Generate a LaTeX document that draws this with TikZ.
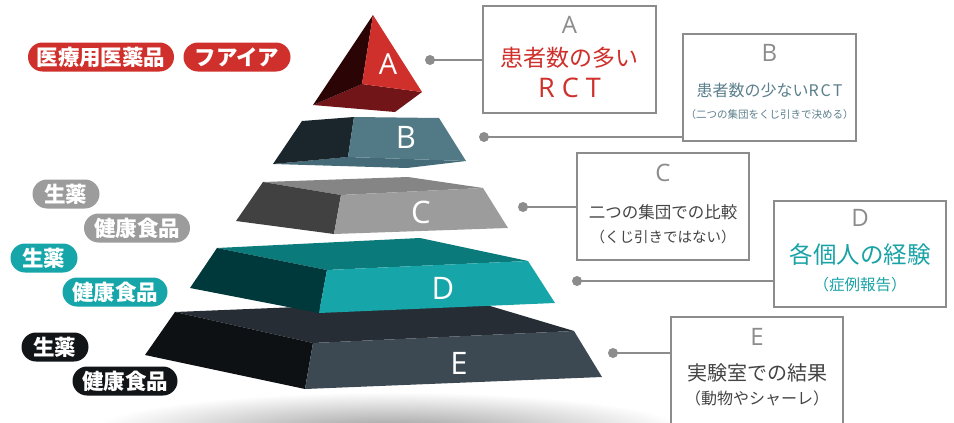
\documentclass[tikz,border=0pt]{standalone}
\usepackage{fontspec}
\newfontfamily\jp{Noto Sans CJK JP}
\newfontfamily\lat{Open Sans}
\definecolor{cred}{HTML}{D0302B}
\definecolor{credL}{HTML}{2B0505}
\definecolor{credB}{HTML}{711519}
\definecolor{cbR}{HTML}{527A86}
\definecolor{cbL}{HTML}{1A262B}
\definecolor{cbB}{HTML}{456B78}
\definecolor{ccT}{HTML}{858585}
\definecolor{ccL}{HTML}{414141}
\definecolor{ccR}{HTML}{9C9C9C}
\definecolor{cdT}{HTML}{0A7A7B}
\definecolor{cdL}{HTML}{00393C}
\definecolor{cdR}{HTML}{16A6A9}
\definecolor{ceT}{HTML}{272D35}
\definecolor{ceL}{HTML}{0E1114}
\definecolor{ceR}{HTML}{3C4852}
\definecolor{cline}{HTML}{8C8C8C}
\definecolor{cbtext}{HTML}{5B7F8C}
\definecolor{ctext}{HTML}{444444}
\definecolor{cdtext}{HTML}{1AA3A6}
\definecolor{cblack}{HTML}{111518}
\begin{document}
\begin{tikzpicture}[x=1pt,y=-1pt,
  pill/.style={rounded corners=14.5pt, minimum height=29pt, inner xsep=0pt, inner ysep=0pt,
    text=white, font=\jp\bfseries\fontsize{21.5}{21.5}\selectfont},
  infobox/.style={draw=cline, line width=1.4pt, fill=white, inner sep=0pt},
  dotn/.style={circle, fill=cline, minimum size=10pt, inner sep=0pt},
  conn/.style={draw=cline, line width=2pt},
  boxletter/.style={text=cline, font=\lat\fontsize{24}{24}\selectfont},
  pyrletter/.style={text=white, font=\lat\fontsize{31}{31}\selectfont},
]
\useasboundingbox (0,0) rectangle (954,423);
% shadow
\begin{scope}
\clip (0,0) rectangle (954,423);
\shade[inner color=black!40, outer color=white] (390,432) ellipse [x radius=300, y radius=40];
\end{scope}

% layer E
\fill[ceT] (175,312) -- (470,300) -- (574,331) -- (313,343) -- cycle;
\fill[ceL] (175,312) -- (313,343) -- (305,389) -- (145,355) -- cycle;
\fill[ceR] (313,343) -- (574,331) -- (602,377) -- (305,389) -- cycle;
% layer D
\fill[cdT] (217,248) -- (420,238) -- (528,261) -- (327,270) -- cycle;
\fill[cdL] (217,248) -- (327,270) -- (319,313) -- (190,288) -- cycle;
\fill[cdR] (327,270) -- (528,261) -- (555,303) -- (319,313) -- cycle;
% layer C
\fill[ccT] (263,182) -- (408,177) -- (483,188) -- (341,195) -- cycle;
\fill[ccL] (263,182) -- (341,195) -- (334,234) -- (236,221) -- cycle;
\fill[ccR] (341,195) -- (483,188) -- (508,228) -- (334,234) -- cycle;
% layer B
\fill[cbB] (273,164) -- (348,157) -- (466,161) -- (407,168) -- cycle;
\fill[cbL] (302,121) -- (354,117) -- (348,157) -- (273,164) -- cycle;
\fill[cbR] (354,117) -- (439,118) -- (466,161) -- (348,157) -- cycle;
% layer A
\fill[credB] (313,105) -- (362,84) -- (422,92) -- (395,112) -- cycle;
\fill[credL] (313,105) -- (373,15) -- (362,84) -- cycle;
\fill[cred] (373,15) -- (422,92) -- (362,84) -- cycle;

\node[pyrletter, font=\lat\fontsize{29}{29}\selectfont] (LA) at (388,64) {A};
\node[pyrletter] (LB) at (406,137) {B};
\node[pyrletter] (LC) at (421,212) {C};
\node[pyrletter] (LD) at (443,288) {D};
\node[pyrletter] (LE) at (459,363) {E};

% pills
\node[pill, fill=cred, minimum width=146pt] (p1) at (101,57) {医療用医薬品};
\node[pill, fill=cred, minimum width=107pt] (p2) at (237,57) {フアイア};
\node[pill, fill=ccR, minimum width=67pt] (p3) at (66,194) {生薬};
\node[pill, fill=ccR, minimum width=106pt] (p4) at (137,228) {健康食品};
\node[pill, fill=cdR, minimum width=67pt] (p5) at (44,258) {生薬};
\node[pill, fill=cdR, minimum width=105pt] (p6) at (115,292) {健康食品};
\node[pill, fill=cblack, minimum width=67pt] (p7) at (55,347) {生薬};
\node[pill, fill=cblack, minimum width=105pt] (p8) at (125,381) {健康食品};

% boxes
\node[infobox, minimum width=173pt, minimum height=107pt] (bA) at (569.5,59.5) {};
\node[infobox, minimum width=173pt, minimum height=107pt] (bB) at (769.5,87.5) {};
\node[infobox, minimum width=172pt, minimum height=107pt] (bC) at (663,206.5) {};
\node[infobox, minimum width=172pt, minimum height=106pt] (bD) at (860,254) {};
\node[infobox, minimum width=172pt, minimum height=112pt] (bE) at (757,373) {};

% dots and connectors
\node[dotn] (dA) at (430,60) {};
\node[dotn] (dB) at (484,137) {};
\node[dotn] (dC) at (523,207) {};
\node[dotn] (dD) at (577,281) {};
\node[dotn] (dE) at (613,353) {};
\draw[conn] (dA.center) -- (dA -| bA.west);
\draw[conn] (dB.center) -- (dB -| bB.west);
\draw[conn] (dC.center) -- (dC -| bC.west);
\draw[conn] (dD.center) -- (dD -| bD.west);
\draw[conn] (dE.center) -- (dE -| bE.west);

% box texts
\node[boxletter] (tA0) at (569.5,25) {A};
\node[text=cred, font=\jp\fontsize{23}{23}\selectfont] (tA1) at (569.5,58) {患者数の多い};
\node[text=cred, font=\lat\fontsize{27}{27}\selectfont] (tA2) at (569.5,88) {R\hspace{7pt}C\hspace{7pt}T};

\node[boxletter] (tB0) at (769.5,53) {B};
\node[text=cbtext, font=\jp\fontsize{16}{16}\selectfont] (tB1) at (769.5,90) {患者数の少ないR\hspace{2pt}C\hspace{2pt}T};
\node[text=cbtext, font=\jp\fontsize{10.5}{10.5}\selectfont] (tB2) at (769.5,115) {（二つの集団をくじ引きで決める）};

\node[boxletter] (tC0) at (663,173) {C};
\node[text=ctext, font=\jp\fontsize{16.5}{16.5}\selectfont] (tC1) at (663,212) {二つの集団での比較};
\node[text=ctext, font=\jp\fontsize{14.5}{14.5}\selectfont] (tC2) at (663,237) {（くじ引きではない）};

\node[boxletter] (tD0) at (860,218) {D};
\node[text=cdtext, font=\jp\fontsize{23.5}{23.5}\selectfont] (tD1) at (860,255) {各個人の経験};
\node[text=cdtext, font=\jp\fontsize{15.5}{15.5}\selectfont] (tD2) at (860,285) {（症例報告）};

\node[boxletter] (tE0) at (757,337) {E};
\node[text=ctext, font=\jp\fontsize{20}{20}\selectfont] (tE1) at (757,373) {実験室での結果};
\node[text=ctext, font=\jp\fontsize{16}{16}\selectfont] (tE2) at (757,398) {（動物やシャーレ）};
\end{tikzpicture}
\end{document}
